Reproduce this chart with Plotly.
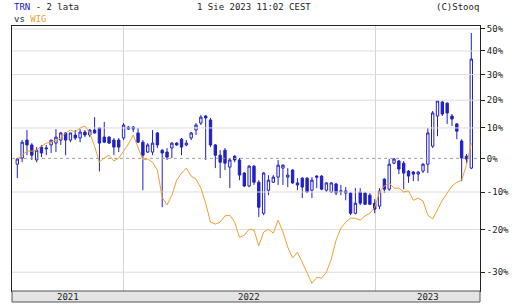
import plotly.graph_objects as go
import math

# ---- data (percent change vs start) ----
opens = [-1.8, 0.1, 5.9, 4.3, -0.5, 3.6, 3.0, 4.3, 4.9, 5.9,
         8.3, 5.9, 7.6, 6.6, 8.6, 7.6, 9.3, 10.0, 6.9, 6.9,
         5.9, 5.9, 6.6, 10.3, 10.3, 8.3, 5.2, 2.0, 2.0, 8.3,
         2.6, 2.0, 3.3, 4.9, 6.2, 4.3, 6.6, 9.3, 11.7, 14.2,
         12.8, 4.3, 1.0, 2.6, -2.7, 0.7, -0.5, -4.5, -8.3, -2.4,
         -7.2, -15.8, -9.5, -7.2, -5.7, -3.0, -5.7, -3.6, -7.4, -6.0,
         -6.0, -9.5, -5.4, -5.4, -9.5, -10.0, -7.7, -10.0, -9.7, -10.3,
         -15.8, -10.0, -10.3, -10.9, -13.1, -13.9, -6.3, -9.2, -1.5, -0.8,
         -1.5, -3.9, -4.2, -4.8, -3.9, -1.8, 3.9, 14.2, 19.3, 18.9,
         14.2, 11.4, 5.6, 0.7, -3.0]
highs = [0.1, 5.9, 9.3, 4.9, 3.6, 4.3, 4.3, 5.9, 9.6, 8.6,
         8.6, 8.3, 9.3, 9.6, 9.3, 9.6, 13.8, 10.3, 12.1, 7.2,
         6.6, 6.6, 11.7, 10.7, 10.7, 10.0, 5.9, 4.9, 9.3, 8.6,
         2.9, 3.3, 5.2, 5.2, 6.6, 5.9, 8.6, 11.7, 14.5, 14.5,
         13.5, 4.6, 2.6, 3.3, 0.1, 1.0, 0.1, -4.2, -2.1, -2.1,
         -6.6, -4.2, -5.1, -5.1, -0.5, -1.8, -3.0, -3.3, -6.0, -5.7,
         -5.7, -5.7, -5.1, -5.1, -7.2, -7.2, -7.4, -8.0, -8.6, -10.0,
         -8.9, -8.9, -10.0, -10.3, -12.0, -8.9, -6.0, -0.2, 0.1, -0.5,
         -0.8, -3.6, -3.9, -3.9, -1.5, 10.0, 16.0, 20.0, 19.7, 19.2,
         14.9, 11.7, 6.2, 1.4, 48.1]
lows = [-6.0, -1.2, 1.0, -0.5, -1.2, 0.4, 1.0, 1.7, 2.0, 4.3,
        1.0, 5.2, 5.9, 5.2, 6.9, 6.9, 8.0, -4.0, 4.9, 4.6,
        1.0, 2.0, 5.9, 9.3, 8.6, 4.9, -9.5, 1.7, 1.0, 3.3,
        -14.2, -0.5, 0.1, 4.0, 1.0, 3.9, 5.9, 7.6, 11.0, -0.5,
        3.6, -3.0, -6.0, -3.6, -8.9, -1.2, -6.6, -8.6, -8.6, -8.0,
        -16.8, -16.3, -10.9, -7.4, -8.0, -8.0, -8.6, -7.7, -9.5, -11.7,
        -10.3, -11.7, -8.9, -9.5, -10.0, -10.3, -10.9, -10.9, -12.3, -16.3,
        -16.1, -13.6, -13.6, -13.6, -15.8, -14.7, -10.3, -9.7, -1.8, -4.8,
        -9.2, -7.4, -6.9, -6.9, -4.5, -4.5, 3.3, 7.2, 14.2, 11.4,
        10.7, 6.2, -6.9, -1.5, -3.3]
closes = [-0.2, 5.2, 4.3, 1.0, 2.6, 1.7, 3.3, 5.9, 6.9, 8.3,
          5.9, 8.3, 6.6, 8.6, 7.6, 9.3, 8.3, 4.9, 5.2, 4.9,
          3.6, 3.6, 11.0, 9.6, 9.6, 5.2, 1.0, 4.3, 4.9, 4.3,
          1.7, 0.4, 4.9, 4.3, 3.6, 4.9, 8.3, 11.0, 13.8, 13.5,
          4.3, 1.0, -1.2, -1.5, -0.5, -0.5, -5.1, -8.3, -2.4, -7.2,
          -14.2, -4.5, -6.6, -5.7, -2.1, -2.1, -5.1, -7.4, -8.0, -8.6,
          -10.0, -6.6, -5.7, -9.2, -7.4, -7.4, -10.3, -9.7, -10.3, -15.8,
          -13.1, -13.1, -13.4, -13.4, -14.7, -9.7, -9.2, -1.8, -0.2, -3.3,
          -4.5, -5.4, -4.8, -4.2, -1.8, 8.3, 15.3, 19.7, 14.9, 15.3,
          13.1, 8.9, 0.1, -0.2, 36.5]
wig = [-0.2, 1.0, 2.3, 2.3, 2.6, 3.9, 4.9, 5.2, 5.9, 6.6,
       8.3, 9.3, 8.6, 10.0, 10.7, 8.3, 3.9, -1.2, 0.1, 1.0,
       -0.8, 0.1, 2.3, 4.6, 7.6, 3.6, -0.5, -0.2, -1.2, -3.6,
       -11.5, -13.6, -10.9, -6.6, -4.5, -3.0, -5.4, -6.3, -8.9, -13.1,
       -18.1, -18.6, -18.1, -16.5, -16.3, -18.1, -21.9, -21.4, -19.9, -20.1,
       -24.0, -20.6, -19.9, -20.9, -17.6, -20.6, -24.3, -26.8, -25.5, -27.8,
       -30.2, -32.4, -31.1, -31.3, -30.0, -27.1, -22.6, -19.6, -18.1, -17.1,
       -17.1, -17.6, -16.5, -15.8, -14.2, -10.0, -8.3, -7.4, -8.9, -8.9,
       -10.0, -9.7, -12.3, -11.7, -12.5, -16.3, -17.3, -15.0, -12.3, -10.3,
       -8.3, -7.2, -6.6, -2.1, 4.9]
weeks = list(range(len(opens)))

year_labels = ["2021", "2022", "2023"]
year_bounds = [-1.1, 21.9, 74.1, 95.8]   # x-axis extent and year boundaries (week index)
pct_ticks = [-30, -20, -10, 0, 10, 20, 30, 40, 50]


def ratio(v):
    return [1 + p / 100.0 for p in v]


BLUE = "#2020c8"
ORANGE = "#f0a030"
FONT = "DejaVu Sans Mono"

fig = go.Figure()

# horizontal gridlines (non-zero ticks)
gx, gy = [], []
for t in pct_ticks:
    if t == 0:
        continue
    gx += [year_bounds[0], year_bounds[-1], None]
    gy += [1 + t / 100.0, 1 + t / 100.0, None]
fig.add_trace(go.Scatter(x=gx, y=gy, mode="lines",
                         line=dict(color="#dcdcdc", width=1),
                         hoverinfo="skip", showlegend=False))
# dashed zero line
fig.add_trace(go.Scatter(x=[year_bounds[0], year_bounds[-1]], y=[1.0, 1.0], mode="lines",
                         line=dict(color="#a0a0a0", width=1, dash="3px,3px"),
                         hoverinfo="skip", showlegend=False))

fig.add_trace(go.Scatter(x=weeks, y=ratio(wig), mode="lines",
                         line=dict(color=ORANGE, width=1),
                         hoverinfo="skip", showlegend=False))

fig.add_trace(go.Candlestick(
    x=weeks, open=ratio(opens), high=ratio(highs), low=ratio(lows), close=ratio(closes),
    increasing=dict(line=dict(color=BLUE, width=1), fillcolor="#ffffff"),
    decreasing=dict(line=dict(color=BLUE, width=1), fillcolor=BLUE),
    whiskerwidth=0, hoverinfo="skip", showlegend=False))

fig.update_layout(
    width=513, height=304,
    margin=dict(l=12, r=33, t=26, b=13, autoexpand=False),
    paper_bgcolor="white", plot_bgcolor="white",
    showlegend=False,
    font=dict(family=FONT, size=9, color="#222222"),
    xaxis=dict(range=[year_bounds[0], year_bounds[-1]], tickvals=year_bounds[1:-1],
               showticklabels=False, ticks="", showgrid=True, gridcolor="#d4d4d4",
               gridwidth=1, zeroline=False, showline=True, linecolor="#222222",
               linewidth=1, mirror=True, rangeslider=dict(visible=False),
               fixedrange=True, automargin=False),
    yaxis=dict(type="log", side="right",
               range=[math.log10(0.66), math.log10(1.514)],
               tickvals=ratio(pct_ticks), ticktext=[f"{t}%" for t in pct_ticks],
               ticks="outside", ticklen=4, tickcolor="#222222", showgrid=False,
               zeroline=False, showline=True, linecolor="#222222", linewidth=1,
               mirror=True, tickfont=dict(family=FONT, size=9, color="#222222"),
               fixedrange=True, automargin=False),
)

# bottom year band
fig.add_shape(type="rect", xref="paper", yref="paper", x0=0, x1=1, y0=-11 / 265, y1=0,
              fillcolor="#e4e4e4", line=dict(color="#555555", width=1), layer="above")
for i, lab in enumerate(year_labels):
    mid = (year_bounds[i] + year_bounds[i + 1]) / 2
    fig.add_annotation(x=mid, xref="x", y=-5.5 / 265, yref="paper", text=lab,
                       showarrow=False, font=dict(family=FONT, size=9, color="#222222"),
                       xanchor="center", yanchor="middle")

fig.add_annotation(x=0, xref="paper", y=(291 - 7) / 265, yref="paper",
                   text=f'<span style="color:{BLUE}">TRN</span> - 2 lata',
                   showarrow=False, xanchor="left", yanchor="middle",
                   font=dict(family=FONT, size=9, color="#222222"))
fig.add_annotation(x=0, xref="paper", y=(291 - 19) / 265, yref="paper",
                   text=f'vs <span style="color:{ORANGE}">WIG</span>',
                   showarrow=False, xanchor="left", yanchor="middle",
                   font=dict(family=FONT, size=9, color="#222222"))
fig.add_annotation(x=(253.5 - 12) / 468, xref="paper", y=(291 - 7) / 265, yref="paper",
                   text="1 Sie 2023 11:02 CEST", showarrow=False,
                   xanchor="center", yanchor="middle",
                   font=dict(family=FONT, size=9, color="#222222"))
fig.add_annotation(x=(481 - 12) / 468, xref="paper", y=(291 - 7) / 265, yref="paper",
                   text="(C)Stooq", showarrow=False, xanchor="right", yanchor="middle",
                   font=dict(family=FONT, size=9, color="#222222"))

fig.write_html("out.html", config=dict(displayModeBar=False, staticPlot=True))
